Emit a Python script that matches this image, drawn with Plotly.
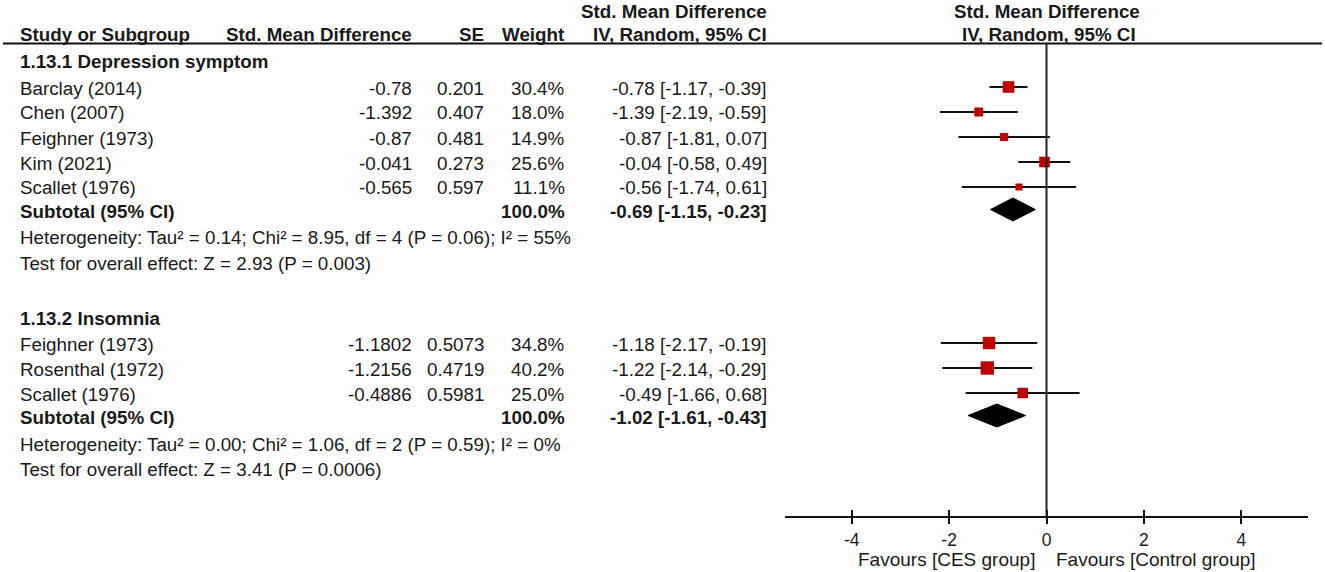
import numpy as np
import plotly.graph_objects as go

# subgroup 1.13.1 depression symptom
dep_title = "1.13.1 Depression symptom"
dep_studies = ["Barclay (2014)", "Chen (2007)", "Feighner (1973)", "Kim (2021)", "Scallet (1976)"]
dep_smd = [-0.78, -1.392, -0.87, -0.041, -0.565]
dep_se = [0.201, 0.407, 0.481, 0.273, 0.597]
dep_weight = [30.4, 18.0, 14.9, 25.6, 11.1]
dep_lo = [-1.17, -2.19, -1.81, -0.58, -1.74]
dep_hi = [-0.39, -0.59, 0.07, 0.49, 0.61]
dep_total = [-0.69, -1.15, -0.23]
dep_het = "Heterogeneity: Tau² = 0.14; Chi² = 8.95, df = 4 (P = 0.06); I² = 55%"
dep_test = "Test for overall effect: Z = 2.93 (P = 0.003)"

# subgroup 1.13.2 insomnia
ins_title = "1.13.2 Insomnia"
ins_studies = ["Feighner (1973)", "Rosenthal (1972)", "Scallet (1976)"]
ins_smd = [-1.1802, -1.2156, -0.4886]
ins_se = [0.5073, 0.4719, 0.5981]
ins_weight = [34.8, 40.2, 25.0]
ins_lo = [-2.17, -2.14, -1.66]
ins_hi = [-0.19, -0.29, 0.68]
ins_total = [-1.02, -1.61, -0.43]
ins_het = "Heterogeneity: Tau² = 0.00; Chi² = 1.06, df = 2 (P = 0.59); I² = 0%"
ins_test = "Test for overall effect: Z = 3.41 (P = 0.0006)"

tick_vals = [-4, -2, 0, 2, 4]
tick_text = ["-4", "-2", "0", "2", "4"]
left_label = "Favours [CES group]"
right_label = "Favours [Control group]"

W, H = 1325, 572
TXT = "#1a1a1a"
FONT = "Liberation Sans"
FS = 18.8
AXIS_Y = 516  # pixel row of the x axis line

fig = go.Figure()


def txt(s, x, y, anchor="left", bold=False, size=FS):
    fig.add_annotation(
        text=f"<b>{s}</b>" if bold else s,
        x=x / W, y=1 - y / H, xref="paper", yref="paper",
        xanchor=anchor, yanchor="middle", showarrow=False, borderpad=0,
        font=dict(family=FONT, size=size, color=TXT),
    )


# column headers
txt("Std. Mean Difference", 768, 11, "right", True)
txt("Study or Subgroup", 19, 35, "left", True)
txt("Std. Mean Difference", 413, 35, "right", True)
txt("SE", 485, 35, "right", True)
txt("Weight", 566, 35, "right", True)
txt("IV, Random, 95% CI", 768, 35, "right", True)
txt("Std. Mean Difference", 1047, 11, "center", True)
txt("IV, Random, 95% CI", 1049, 35, "center", True)

groups = [
    (dep_title, dep_studies, dep_smd, dep_se, dep_weight, dep_lo, dep_hi, dep_total, dep_het, dep_test),
    (ins_title, ins_studies, ins_smd, ins_se, ins_weight, ins_lo, ins_hi, ins_total, ins_het, ins_test),
]

y = 62
for title, studies, smd, se, wt, lo, hi, total, het, test in groups:
    txt(title, 19, y, bold=True)
    rows = []
    for i in range(len(studies)):
        y += 26 if i == 0 else 25
        rows.append(y)
        txt(studies[i], 19, y)
        txt(str(smd[i]), 413, y, "right")
        txt(str(se[i]), 485, y, "right")
        txt(f"{wt[i]:.1f}%", 566, y, "right")
        txt(f"{smd[i]:.2f} [{lo[i]:.2f}, {hi[i]:.2f}]", 768, y, "right")

    # confidence intervals
    cx, cy = [], []
    for r, a, b in zip(rows, lo, hi):
        cx += [a, b, None]
        cy += [r - 1, r - 1, None]
    fig.add_trace(go.Scatter(x=cx, y=cy, mode="lines", line=dict(color="#111111", width=2),
                             hoverinfo="skip", showlegend=False))
    # study estimates, square area by weight
    fig.add_trace(go.Scatter(x=smd, y=[r - 1 for r in rows], mode="markers",
                             marker=dict(symbol="square", color="#bf0000", opacity=1,
                                         size=[2.1 * np.sqrt(w) for w in wt], line=dict(width=0)),
                             showlegend=False))

    y += 23
    txt("Subtotal (95% CI)", 19, y, bold=True)
    txt(f"{sum(wt):.1f}%", 566, y, "right", True)
    est, tlo, thi = total
    txt(f"{est:.2f} [{tlo:.2f}, {thi:.2f}]", 768, y, "right", True)
    d = y - 1.5
    fig.add_trace(go.Scatter(x=[tlo, est, thi, est, tlo], y=[d, d - 11.5, d, d + 11.5, d],
                             fill="toself", fillcolor="black", mode="lines",
                             line=dict(color="black", width=1), showlegend=False))
    y += 27
    txt(het, 19, y)
    y += 25
    txt(test, 19, y)
    y += 55

# header rule and line of no effect
fig.add_shape(type="line", xref="paper", yref="paper", x0=3 / W, x1=1322 / W,
              y0=1 - 43.5 / H, y1=1 - 43.5 / H, line=dict(color="#111111", width=2))
fig.add_shape(type="line", xref="x", yref="y", x0=0, x1=0, y0=44, y1=AXIS_Y,
              line=dict(color="#222222", width=2))

# dummy trace so the overlaid tick axis is drawn
fig.add_trace(go.Scatter(x=[0], y=[None], xaxis="x2", showlegend=False, hoverinfo="skip"))

txt(left_label, 1036, 559, "right", size=19)
txt(right_label, 1055, 559, "left", size=19)

xdom = [785 / W, 1308 / W]
xrange = [-5.37, 5.37]
fig.update_layout(
    width=W, height=H, autosize=False,
    margin=dict(l=0, r=0, t=0, b=0),
    plot_bgcolor="white", paper_bgcolor="white",
    showlegend=False,
    xaxis=dict(domain=xdom, range=xrange, anchor="y", showgrid=False, zeroline=False,
               showline=True, linecolor="#111111", linewidth=2,
               ticks="outside", ticklen=6, tickwidth=2, tickcolor="#111111",
               tickvals=tick_vals, ticktext=tick_text, ticklabelstandoff=1,
               tickfont=dict(family=FONT, size=17.5, color=TXT)),
    xaxis2=dict(domain=xdom, range=xrange, overlaying="x", anchor="y", showgrid=False,
                zeroline=False, showline=False, showticklabels=False,
                ticks="inside", ticklen=6, tickwidth=2, tickcolor="#111111",
                tickvals=tick_vals),
    yaxis=dict(domain=[(H - AXIS_Y) / H, 1], range=[AXIS_Y, 0], visible=False),
)

fig.write_html("out.html", config={"displayModeBar": False},
               post_script="document.body.style.margin='0px';")
